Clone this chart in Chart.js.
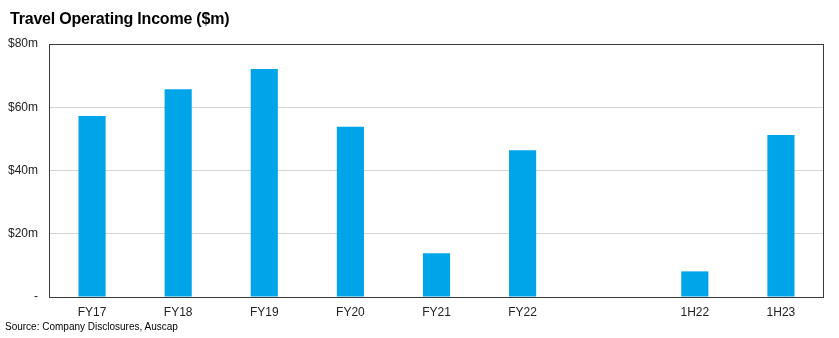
<!DOCTYPE html>
<html>
<head>
<meta charset="utf-8">
<script src="https://cdn.jsdelivr.net/npm/chart.js@4"></script>
<style>
  html, body { margin: 0; padding: 0; background: #fff; }
  #wrap { position: relative; width: 839px; height: 338px; }
  #title {
    position: absolute; left: 10px; top: 11px;
    font: bold 16px "Liberation Sans", Arial, sans-serif; line-height: 16px;
    color: #000; letter-spacing: -0.2px; white-space: nowrap;
  }
  #source {
    position: absolute; left: 5px; top: 322px;
    font: 10px "Liberation Sans", Arial, sans-serif; line-height: 10px;
    color: #000; white-space: nowrap;
  }
</style>
</head>
<body>
<div id="wrap">
  <canvas id="chart" width="839" height="338"></canvas>
  <div id="title">Travel Operating Income ($m)</div>
  <div id="source">Source: Company Disclosures, Auscap</div>
</div>
<script>
// données ($m)
const categories = ["FY17", "FY18", "FY19", "FY20", "FY21", "FY22", "", "1H22", "1H23"];
const incomeValues = [57.2, 65.7, 72.1, 53.8, 13.8, 46.4, null, 8.1, 51.2];
const yTickLabels = ["-", "$20m", "$40m", "$60m", "$80m"];

// cadre autour de la zone du graphique
const frame = {
    id: 'frame',
    afterDatasetsDraw(chart) {
        const a = chart.chartArea;
        const ctx = chart.ctx;
        ctx.save();
        ctx.strokeStyle = '#3a3a3a';
        ctx.lineWidth = 1;
        ctx.strokeRect(Math.round(a.left) + 0.5, Math.round(a.top) + 0.5,
            Math.round(a.right - a.left) - 1, Math.round(a.bottom - a.top));
        ctx.restore();
    }
};

const ctx = document.getElementById('chart').getContext('2d');
new Chart(ctx, {
    type: 'bar',
    data: {
        labels: categories,
        datasets: [{
            data: incomeValues,
            backgroundColor: '#00a4e9',
            barPercentage: 0.315,
            categoryPercentage: 1
        }]
    },
    options: {
        responsive: false,
        animation: false,
        layout: { padding: { top: 44, left: 0, right: 15, bottom: 21 } },
        plugins: {
            legend: { display: false },
            tooltip: { enabled: false }
        },
        scales: {
            x: {
                grid: { display: false, drawTicks: false },
                border: { display: false },
                ticks: {
                    padding: 8,
                    color: '#222',
                    font: { family: 'Liberation Sans', size: 12 },
                    maxRotation: 0,
                    autoSkip: false
                },
                afterFit(scale) { scale.height = 20; }
            },
            y: {
                min: 0,
                max: 80,
                grid: { color: '#d4d4d4', drawTicks: false },
                border: { display: false },
                ticks: {
                    stepSize: 20,
                    padding: 11,
                    color: '#222',
                    font: { family: 'Liberation Sans', size: 12 },
                    callback: (v) => yTickLabels[v / 20]
                },
                afterFit(scale) { scale.width = 49; }
            }
        }
    },
    plugins: [frame]
});
</script>
</body>
</html>
